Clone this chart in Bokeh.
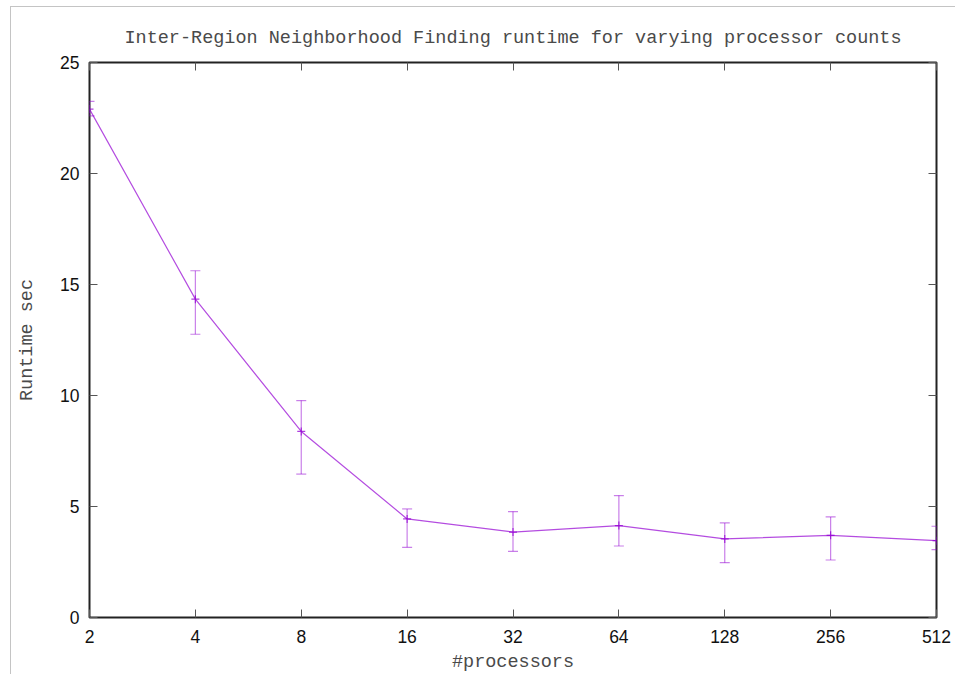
from bokeh.plotting import figure
from bokeh.models import (Range1d, FixedTicker, LogAxis, LinearAxis, ColumnDataSource,
                          Whisker, TeeHead, NumeralTickFormatter)
from bokeh.embed import file_html
from bokeh.resources import INLINE

procs = [2, 4, 8, 16, 32, 64, 128, 256, 512]
runtime = [22.9, 14.34, 8.38, 4.44, 3.85, 4.14, 3.54, 3.70, 3.46]
err_low = [22.6, 12.76, 6.46, 3.16, 2.98, 3.22, 2.47, 2.59, 3.06]
err_high = [23.25, 15.62, 9.77, 4.89, 4.77, 5.49, 4.26, 4.53, 4.11]
y_ticks = [0, 5, 10, 15, 20, 25]

title_text = "Inter-Region Neighborhood Finding runtime for varying processor counts"
x_label = "#processors"
y_label = "Runtime sec"

COLOR = "#9400d3"
MONO = "Liberation Mono"
SANS = "Liberation Sans"
TEXT_GRAY = "#4a4a4a"

src = ColumnDataSource(dict(x=procs, y=runtime, lo=err_low, hi=err_high))

p = figure(width=945, height=668, x_axis_type="log",
           x_range=Range1d(2, 512), y_range=Range1d(0, 25),
           output_backend="svg", toolbar_location=None,
           min_border_left=78, min_border_right=20, min_border_top=55, min_border_bottom=57,
           title=title_text)
p.margin = (6, 0, 0, 10)
p.styles = {"border-top": "1px solid #c4c4c4", "border-left": "1px solid #c4c4c4"}

p.title.align = "center"
p.title.text_font = MONO
p.title.text_font_size = "18.5px"
p.title.text_font_style = "normal"
p.title.text_color = TEXT_GRAY
p.title.standoff = 28

p.grid.visible = False
p.outline_line_color = "#222222"
p.outline_line_width = 2
p.background_fill_color = "white"
p.border_fill_color = "white"

def style_axis(ax, labels=True):
    ax.axis_line_color = None
    ax.major_tick_in = 8
    ax.major_tick_out = 0
    ax.minor_tick_in = 0
    ax.minor_tick_out = 0
    ax.major_tick_line_color = "#555555"
    ax.major_tick_line_width = 1
    ax.major_label_text_font = SANS
    ax.major_label_text_font_size = "17.5px"
    ax.major_label_text_color = "#111111"
    ax.axis_label_text_font = MONO
    ax.axis_label_text_font_size = "18.5px"
    ax.axis_label_text_font_style = "normal"
    ax.axis_label_text_color = TEXT_GRAY
    if not labels:
        ax.major_label_text_font_size = "0px"
        ax.major_label_text_alpha = 0

xax = p.xaxis[0]
xax.ticker = FixedTicker(ticks=procs, minor_ticks=[])
xax.formatter = NumeralTickFormatter(format="0")
xax.axis_label = x_label
style_axis(xax)
xax.major_label_standoff = 12
xax.axis_label_standoff = 6

yax = p.yaxis[0]
yax.ticker = FixedTicker(ticks=y_ticks, minor_ticks=[])
yax.axis_label = y_label
style_axis(yax)
yax.major_label_standoff = 10
yax.axis_label_standoff = 19

top_ax = LogAxis(ticker=FixedTicker(ticks=procs, minor_ticks=[]))
style_axis(top_ax, labels=False)
p.add_layout(top_ax, "above")

right_ax = LinearAxis(ticker=FixedTicker(ticks=y_ticks, minor_ticks=[]))
style_axis(right_ax, labels=False)
p.add_layout(right_ax, "right")

p.line("x", "y", source=src, line_color=COLOR, line_width=1.2, line_alpha=0.7)
p.scatter("x", "y", source=src, marker="cross", size=8, line_color=COLOR, line_width=1.2, line_alpha=0.75)

w = Whisker(base="x", lower="lo", upper="hi", source=src,
            line_color=COLOR, line_width=1.2, line_alpha=0.5,
            upper_head=TeeHead(size=10, line_color=COLOR, line_width=1.2, line_alpha=0.5),
            lower_head=TeeHead(size=10, line_color=COLOR, line_width=1.2, line_alpha=0.5))
p.add_layout(w)

open("out.html", "w").write(file_html(p, INLINE))
